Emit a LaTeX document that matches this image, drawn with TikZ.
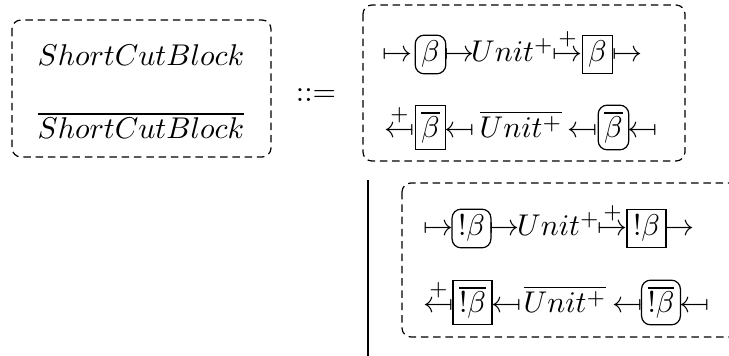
\documentclass[tikz,border=0pt]{standalone}
\newcommand\myMapsFrom{\reflectbox{$\mapsto$}}
\newcommand\myPlusTo{$\stackrel{+}{\mapsto}$}
\newcommand\myPlusFrom{\reflectbox{$\stackrel{+}{\mapsto}$}}
\begin{document}
\begin{tikzpicture}[x=0.3333pt,y=-0.3333pt,
  outerbox/.style={draw, dash pattern=on 2.5pt off 1.6pt, rounded corners=3pt, line width=0.4pt},
  sym/.style={inner sep=0pt, anchor=base},
  rbox/.style={draw, rounded corners=3pt, inner sep=2pt, anchor=base},
  sbox/.style={draw, inner sep=2pt, anchor=base},
]
\useasboundingbox (0,0) rectangle (729,356);
% left block
\draw[outerbox] (12,20) rectangle (271,157);
\node[sym] (scb) at (141,66) {$ShortCutBlock$};
\node[sym] (scbbar) at (141,139) {$\overline{ShortCutBlock}$};
\node[sym] (def) at (316,101.5) {$::=$};
% top alternative
\draw[outerbox] (363,5) rectangle (685,161);
\node[sym] (t1a) at (397.5,62) {$\mapsto$};
\node[rbox] (t1b) at (430.5,62) {$\beta$};
\node[sym] (t1c) at (459.5,62) {$\mapsto$};
\node[sym] (t1d) at (512.5,62) {$Unit^+$};
\node[sym] (t1e) at (567.5,62) {\myPlusTo};
\node[sbox] (t1f) at (597.5,62) {$\beta$};
\node[sym] (t1g) at (627.5,62) {$\mapsto$};
\node[sym] (t2a) at (399.5,138) {\myPlusFrom};
\node[sbox] (t2b) at (430.5,138) {$\overline{\beta}$};
\node[sym] (t2c) at (460,138) {\myMapsFrom};
\node[sym] (t2d) at (521,138) {$\overline{Unit^+}$};
\node[sym] (t2e) at (582.5,138) {\myMapsFrom};
\node[rbox] (t2f) at (613.5,138) {$\overline{\beta}$};
\node[sym] (t2g) at (642.5,138) {\myMapsFrom};
% bar
\coordinate (bartop) at (368,180);
\coordinate (barbot) at (368,356);
\draw[line width=0.5pt] (bartop) -- (barbot);
% bottom alternative
\draw[outerbox] (402,183) rectangle (745,337);
\node[sym] (b1a) at (438.5,236) {$\mapsto$};
\node[rbox] (b1b) at (471.5,236) {$!\beta$};
\node[sym] (b1c) at (504.5,236) {$\mapsto$};
\node[sym] (b1d) at (558.5,236) {$Unit^+$};
\node[sym] (b1e) at (612.5,236) {\myPlusTo};
\node[sbox] (b1f) at (646.5,236) {$!\beta$};
\node[sym] (b1g) at (680,236) {$\mapsto$};
\node[sym] (b2a) at (438.5,313) {\myPlusFrom};
\node[sbox] (b2b) at (472.5,313) {$\overline{!\beta}$};
\node[sym] (b2c) at (506.5,313) {\myMapsFrom};
\node[sym] (b2d) at (565,313) {$\overline{Unit^+}$};
\node[sym] (b2e) at (627.5,313) {\myMapsFrom};
\node[rbox] (b2f) at (661,313) {$\overline{!\beta}$};
\node[sym] (b2g) at (694.5,313) {\myMapsFrom};
\end{tikzpicture}
\end{document}
